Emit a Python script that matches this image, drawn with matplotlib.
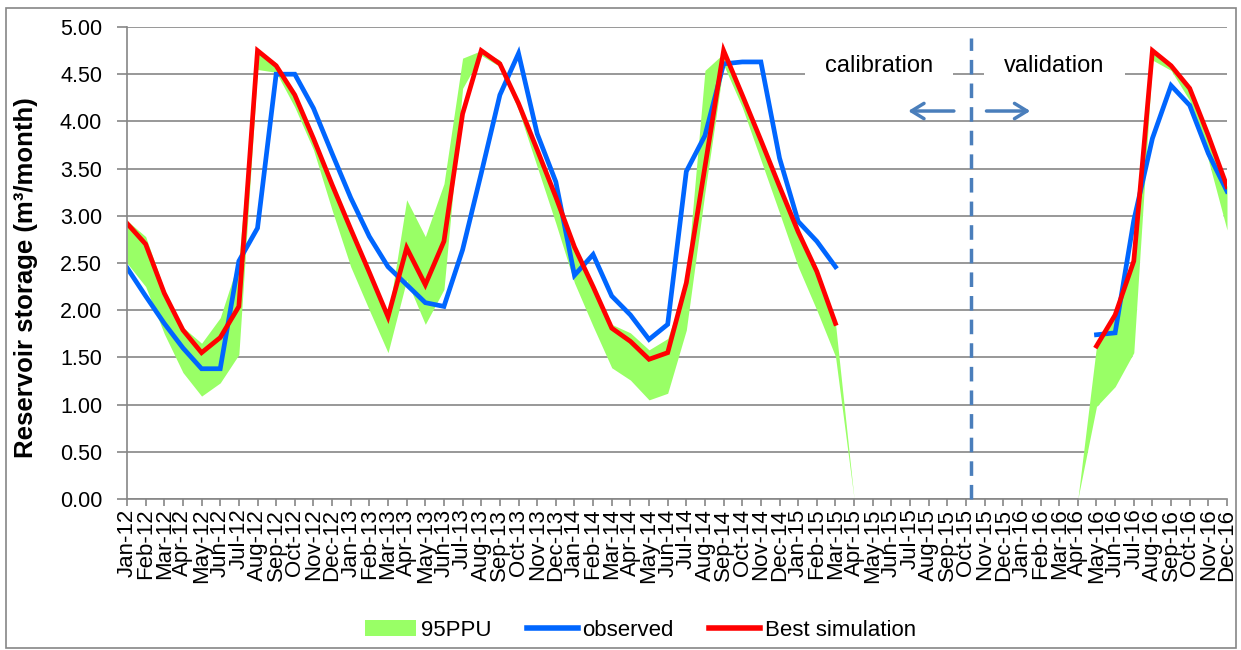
import numpy as np
import matplotlib
matplotlib.use("Agg")
import matplotlib.pyplot as plt
from matplotlib.patches import Patch, Rectangle
from matplotlib.lines import Line2D

plt.rcParams['font.family'] = ['Liberation Sans', 'DejaVu Sans']

months = ['Jan', 'Feb', 'Mar', 'Apr', 'May', 'Jun', 'Jul', 'Aug', 'Sep', 'Oct', 'Nov', 'Dec']
years = ['12', '13', '14', '15', '16']
labels = [f"{m}-{y}" for y in years for m in months]

nan = np.nan
observed = [2.45, 2.15, 1.86, 1.60, 1.38, 1.38, 2.52, 2.87, 4.50, 4.50, 4.14, 3.66,
            3.19, 2.78, 2.46, 2.27, 2.08, 2.04, 2.64, 3.45, 4.28, 4.72, 3.87, 3.36,
            2.37, 2.59, 2.15, 1.95, 1.69, 1.85, 3.47, 3.85, 4.61, 4.63, 4.63, 3.61,
            2.94, 2.73, 2.46, nan, nan, nan, nan, nan, nan, nan, nan, nan,
            nan, nan, nan, nan, 1.74, 1.76, 2.95, 3.82, 4.38, 4.17, 3.66, 3.26]

best_sim = [2.92, 2.70, 2.18, 1.79, 1.55, 1.71, 2.04, 4.75, 4.59, 4.28, 3.82, 3.33,
            2.86, 2.40, 1.93, 2.66, 2.27, 2.73, 4.08, 4.75, 4.61, 4.19, 3.70, 3.20,
            2.67, 2.25, 1.81, 1.67, 1.48, 1.55, 2.29, 3.52, 4.75, 4.28, 3.80, 3.31,
            2.83, 2.41, 1.86, nan, nan, nan, nan, nan, nan, nan, nan, nan,
            nan, nan, nan, nan, 1.62, 1.95, 2.52, 4.75, 4.59, 4.35, 3.85, 3.31]

ppu_lower = [2.50, 2.25, 1.75, 1.34, 1.09, 1.23, 1.53, 4.55, 4.52, 4.15, 3.70, 3.06,
             2.46, 2.00, 1.55, 2.32, 1.85, 2.22, 4.35, 4.70, 4.58, 4.12, 3.52, 2.92,
             2.29, 1.83, 1.39, 1.26, 1.05, 1.12, 1.79, 3.25, 4.60, 4.15, 3.59, 3.03,
             2.46, 2.00, 1.51, 0, 0, 0, 0, 0, 0, 0, 0, 0,
             0, 0, 0, 0, 0.98, 1.19, 1.55, 4.65, 4.54, 4.22, 3.59, 2.85]

ppu_upper = [2.95, 2.78, 2.22, 1.82, 1.65, 1.92, 2.53, 4.75, 4.62, 4.30, 3.85, 3.30,
             2.82, 2.36, 1.92, 3.17, 2.78, 3.34, 4.67, 4.75, 4.65, 4.22, 3.70, 3.20,
             2.67, 2.25, 1.85, 1.76, 1.58, 1.70, 2.29, 4.54, 4.72, 4.30, 3.80, 3.31,
             2.83, 2.41, 1.86, 0, 0, 0, 0, 0, 0, 0, 0, 0,
             0, 0, 0, 0, 1.62, 1.97, 2.53, 4.75, 4.61, 4.35, 3.84, 3.31]

x = np.arange(len(labels))
lower = np.array(ppu_lower)
upper = np.array(ppu_upper)

GREEN = '#99FF66'
BLUE = '#0066FF'
RED = '#FF0000'
GRID = '#868686'
STEEL = '#4A7EBB'

fig = plt.figure(figsize=(12.41, 6.50), dpi=100)
ax = fig.add_axes([127/1241, 1 - 499/650, (1227 - 127)/1241, (499 - 27)/650])

ax.set_axisbelow(True)
ax.yaxis.grid(True, color=GRID, linewidth=1.2, zorder=0)

# white underlay for validation part (hides gridlines below band)
vstart = 51
ax.fill_between(x[vstart:], 0, lower[vstart:], color='white', lw=0, zorder=1.5)
ax.fill_between(x, lower, upper, color=GREEN, lw=0, zorder=2)
ax.plot(x, observed, color=BLUE, lw=3.4, zorder=3, solid_joinstyle='miter')
ax.plot(x, best_sim, color=RED, lw=3.4, zorder=4, solid_joinstyle='miter')

ax.set_xlim(0, len(labels) - 1)
ax.set_ylim(0, 5)
ax.set_yticks(np.arange(0, 5.01, 0.5))
ax.set_yticklabels([f"{v:.2f}" for v in np.arange(0, 5.01, 0.5)], fontsize=15.5)
ax.set_xticks(x)
ax.set_xticklabels(labels, rotation=90, fontsize=16, va='top')
ax.tick_params(axis='x', length=5, color=GRID, width=1.2, pad=2)
ax.tick_params(axis='y', length=7, color=GRID, width=1.2, pad=11)

for s in ['top', 'right']:
    ax.spines[s].set_visible(False)
for s in ['left', 'bottom']:
    ax.spines[s].set_color(GRID)
    ax.spines[s].set_linewidth(1.2)
    ax.spines[s].set_zorder(5)

ax.set_ylabel('Reservoir storage (m³/month)', fontsize=18.5, fontweight='bold')
ax.yaxis.set_label_coords(-0.081, 0.47)

# calibration / validation divider
xdiv = 45.28
ax.plot([xdiv, xdiv], [0, 4.88], color=STEEL, lw=2.5, dashes=(4.2, 2.6), zorder=6, clip_on=False)
ax.text(40.35, 4.59, 'calibration', fontsize=17, ha='center', va='center', zorder=5,
        bbox=dict(boxstyle='square,pad=0.85', fc='white', ec='none'))
ax.text(49.75, 4.59, 'validation', fontsize=17, ha='center', va='center', zorder=5,
        bbox=dict(boxstyle='square,pad=0.85', fc='white', ec='none'))
ax.annotate('', xy=(41.75, 4.11), xytext=(44.5, 4.11),
            arrowprops=dict(arrowstyle='->,head_length=0.9,head_width=0.55', color=STEEL, lw=2.5), zorder=6)
ax.annotate('', xy=(48.6, 4.11), xytext=(45.95, 4.11),
            arrowprops=dict(arrowstyle='->,head_length=0.9,head_width=0.55', color=STEEL, lw=2.5), zorder=6)

handles = [Patch(facecolor=GREEN, edgecolor='none'),
           Line2D([0], [0], color=BLUE, lw=4),
           Line2D([0], [0], color=RED, lw=4)]
fig.legend(handles, ['95PPU', 'observed', 'Best simulation'], loc='center',
           bbox_to_anchor=(0.516, 0.030), ncol=3, frameon=False, fontsize=16,
           handlelength=2.3, handletextpad=0.2, columnspacing=1.6)

fig.patches.append(Rectangle((6/1241, 2/650), 1230/1241, 640/650, transform=fig.transFigure,
                             fill=False, ec=GRID, lw=1.2))

fig.savefig('out.png', dpi=100)
